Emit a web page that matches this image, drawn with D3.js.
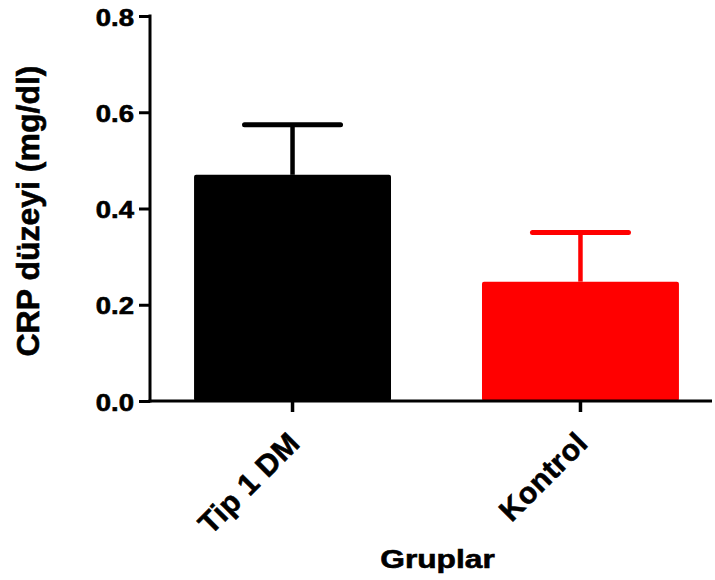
<!DOCTYPE html>
<html>
<head>
<meta charset="utf-8">
<script src="https://cdn.jsdelivr.net/npm/d3@7/dist/d3.min.js"></script>
<style>
  html, body { margin: 0; padding: 0; background: #fff; }
  svg { display: block; }
  text { font-family: "Liberation Sans", Arial, sans-serif; font-weight: bold; fill: #000; stroke: #000; stroke-width: 0.6px; }
</style>
</head>
<body>
<svg id="chart" width="715" height="580"></svg>
<script>
const categories = ["Tip 1 DM", "Kontrol"];
const means = [0.470, 0.248];
const errors = [0.104, 0.102];
const colors = ["#000000", "#ff0000"];
const yTicks = [0.0, 0.2, 0.4, 0.6, 0.8];
const yTitle = "CRP düzeyi (mg/dl)";
const xTitle = "Gruplar";

const svg = d3.select("#chart");
const y = d3.scaleLinear().domain([0, 0.8]).range([401, 16]);
const x = d3.scaleBand().domain(categories).range([150, 723]).paddingInner(0.316).paddingOuter(0.153);

// bars
svg.selectAll("rect.bar").data(categories).enter().append("rect")
  .attr("class", "bar")
  .attr("x", d => x(d))
  .attr("y", (d, i) => y(means[i]))
  .attr("width", x.bandwidth())
  .attr("height", (d, i) => y(0) - y(means[i]))
  .attr("rx", 2)
  .attr("fill", (d, i) => colors[i]);

// error bars
const eg = svg.selectAll("g.err").data(categories).enter().append("g").attr("class", "err");
eg.append("line")
  .attr("x1", d => x(d) + x.bandwidth() / 2)
  .attr("x2", d => x(d) + x.bandwidth() / 2)
  .attr("y1", (d, i) => y(means[i]))
  .attr("y2", (d, i) => y(means[i] + errors[i]))
  .attr("stroke", (d, i) => colors[i])
  .attr("stroke-width", 4.5);
eg.append("line")
  .attr("x1", d => x(d) + x.bandwidth() / 2 - 48)
  .attr("x2", d => x(d) + x.bandwidth() / 2 + 48)
  .attr("y1", (d, i) => y(means[i] + errors[i]))
  .attr("y2", (d, i) => y(means[i] + errors[i]))
  .attr("stroke", (d, i) => colors[i])
  .attr("stroke-width", 5)
  .attr("stroke-linecap", "round");

// y axis
const yAxis = d3.axisLeft(y).tickValues(yTicks).tickFormat(d3.format(".1f")).tickSize(11).tickSizeOuter(0);
const yg = svg.append("g").attr("transform", "translate(150,0)").call(yAxis);
yg.select(".domain").attr("stroke", "#000").attr("stroke-width", 3)
  .attr("d", `M0,${y(0.8) - 1.5}V${y(0) + 1.5}`);
yg.selectAll(".tick line").attr("stroke", "#000").attr("stroke-width", 3);
yg.selectAll(".tick text")
  .attr("x", null).attr("dy", null)
  .attr("text-anchor", "end")
  .style("font-size", "23.5px")
  .attr("transform", "translate(-16,9) scale(1.17,1)");

// x axis
const xAxis = d3.axisBottom(x).tickSize(11).tickSizeOuter(0).tickFormat("");
const xg = svg.append("g").attr("transform", `translate(0,${y(0)})`).call(xAxis);
xg.select(".domain").attr("stroke", "#000").attr("stroke-width", 3)
  .attr("d", "M148.5,0H712");
xg.selectAll(".tick line").attr("stroke", "#000").attr("stroke-width", 3.5);
xg.selectAll(".tick").append("text")
  .attr("text-anchor", "end")
  .style("font-size", "30px")
  .style("letter-spacing", "0.5px")
  .attr("transform", "translate(9,44) rotate(-45)")
  .text(d => d);

// titles
svg.append("text")
  .attr("text-anchor", "middle")
  .style("font-size", "26px")
  .attr("transform", "translate(437.5,568) scale(1.22,1)")
  .text(xTitle);

svg.append("text")
  .attr("text-anchor", "middle")
  .style("font-size", "32px")
  .attr("transform", "translate(39,211) rotate(-90)")
  .text(yTitle);
</script>
</body>
</html>
